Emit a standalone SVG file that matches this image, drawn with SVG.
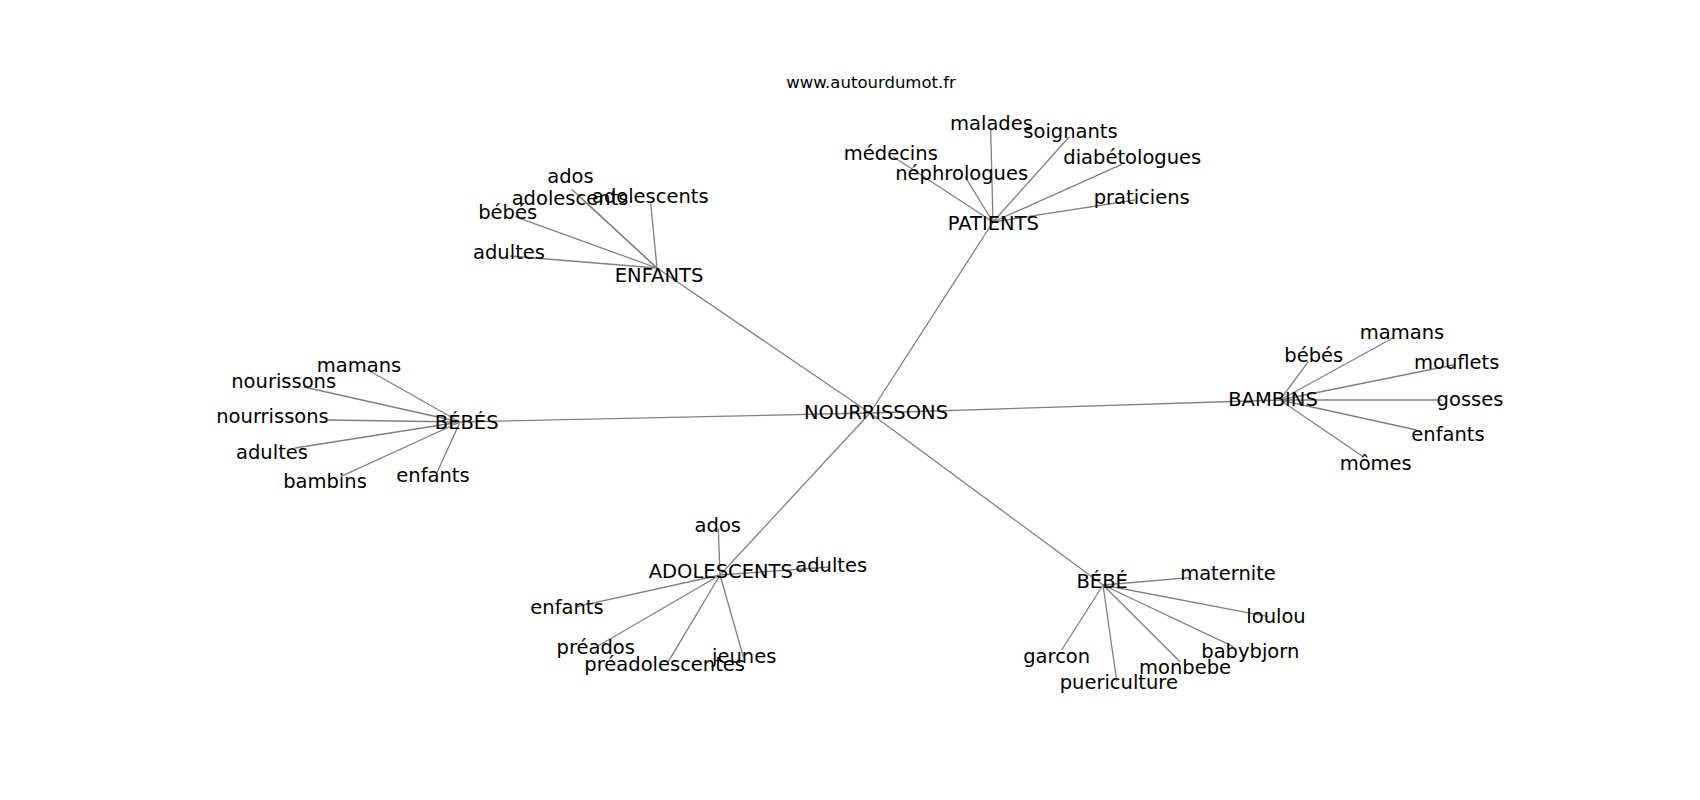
<svg xmlns="http://www.w3.org/2000/svg" width="1700" height="800" viewBox="0 0 1700 800">
<style>
.e line{stroke:#808080;stroke-width:1.3;fill:none}
text{font-family:"DejaVu Sans","Liberation Sans",sans-serif;font-size:19.5px;fill:#000;text-anchor:middle}
.t{font-size:16.5px}
</style>
<rect width="1700" height="800" fill="#fff"/>
<g id="edges" class="e">
<line x1="870" y1="413" x2="657" y2="268"/>
<line x1="870" y1="413" x2="993" y2="222"/>
<line x1="870" y1="413" x2="460" y2="422"/>
<line x1="870" y1="413" x2="1280" y2="400"/>
<line x1="870" y1="413" x2="720" y2="575"/>
<line x1="870" y1="413" x2="1103" y2="585"/>
<line x1="657" y1="268" x2="571.7" y2="189.3"/>
<line x1="657" y1="268" x2="581" y2="198"/>
<line x1="657" y1="268" x2="650.7" y2="203.3"/>
<line x1="657" y1="268" x2="515" y2="216.7"/>
<line x1="657" y1="268" x2="510" y2="256"/>
<line x1="993" y1="222" x2="990.7" y2="130"/>
<line x1="993" y1="222" x2="1069.3" y2="136.7"/>
<line x1="993" y1="222" x2="893.3" y2="156.7"/>
<line x1="993" y1="222" x2="965" y2="176.7"/>
<line x1="993" y1="222" x2="1121.7" y2="164.3"/>
<line x1="993" y1="222" x2="1135" y2="200"/>
<line x1="1280" y1="400" x2="1308.3" y2="361.7"/>
<line x1="1280" y1="400" x2="1393.3" y2="337.7"/>
<line x1="1280" y1="400" x2="1453.3" y2="365"/>
<line x1="1280" y1="400" x2="1441.7" y2="400"/>
<line x1="1280" y1="400" x2="1416.7" y2="430"/>
<line x1="1280" y1="400" x2="1363.3" y2="456.7"/>
<line x1="720" y1="575" x2="718.3" y2="528.3"/>
<line x1="720" y1="575" x2="830" y2="567"/>
<line x1="720" y1="575" x2="576.7" y2="606.7"/>
<line x1="720" y1="575" x2="596.7" y2="646.7"/>
<line x1="720" y1="575" x2="668.3" y2="661.7"/>
<line x1="720" y1="575" x2="743.3" y2="656.7"/>
<line x1="1103" y1="585" x2="1190" y2="577.7"/>
<line x1="1103" y1="585" x2="1268.3" y2="616.7"/>
<line x1="1103" y1="585" x2="1233.3" y2="646.7"/>
<line x1="1103" y1="585" x2="1180" y2="661.7"/>
<line x1="1103" y1="585" x2="1061.7" y2="650"/>
<line x1="1103" y1="585" x2="1116.7" y2="681"/>
<line x1="460" y1="422" x2="367" y2="369.5"/>
<line x1="460" y1="422" x2="304" y2="387"/>
<line x1="460" y1="422" x2="328" y2="420"/>
<line x1="460" y1="422" x2="295" y2="448"/>
<line x1="460" y1="422" x2="340.5" y2="476.7"/>
<line x1="460" y1="422" x2="437" y2="472.5"/>
</g>
<g id="title"><text class="t" x="871" y="88">www.autourdumot.fr</text></g>
<g id="n-nourrissons"><text x="876" y="419">NOURRISSONS</text></g>
<g id="n-enfants"><text x="659" y="282.3">ENFANTS</text></g>
<g id="n-patients"><text x="993.3" y="230">PATIENTS</text></g>
<g id="n-bebes"><text x="466.7" y="429.3">BÉBÉS</text></g>
<g id="n-bambins"><text x="1273" y="405.7">BAMBINS</text></g>
<g id="n-adolescents"><text x="720.8" y="578.3">ADOLESCENTS</text></g>
<g id="n-bebe"><text x="1102.2" y="588.3">BÉBÉ</text></g>
<g id="enfants-ados"><text x="570.5" y="182.7">ados</text></g>
<g id="enfants-adolescents1"><text x="570" y="205">adolescents</text></g>
<g id="enfants-adolescents2"><text x="650.3" y="203.3">adolescents</text></g>
<g id="enfants-bebes"><text x="507.7" y="219.3">bébés</text></g>
<g id="enfants-adultes"><text x="509" y="259.3">adultes</text></g>
<g id="patients-malades"><text x="991.5" y="130">malades</text></g>
<g id="patients-soignants"><text x="1070.5" y="138.3">soignants</text></g>
<g id="patients-medecins"><text x="890.8" y="160">médecins</text></g>
<g id="patients-nephrologues"><text x="961.7" y="180">néphrologues</text></g>
<g id="patients-diabetologues"><text x="1132.3" y="164.3">diabétologues</text></g>
<g id="patients-praticiens"><text x="1141.7" y="204.3">praticiens</text></g>
<g id="bambins-bebes"><text x="1313.8" y="361.7">bébés</text></g>
<g id="bambins-mamans"><text x="1402" y="339">mamans</text></g>
<g id="bambins-mouflets"><text x="1456.7" y="369">mouflets</text></g>
<g id="bambins-gosses"><text x="1470" y="405.7">gosses</text></g>
<g id="bambins-enfants"><text x="1448" y="441">enfants</text></g>
<g id="bambins-momes"><text x="1375.7" y="470">mômes</text></g>
<g id="adol-ados"><text x="717.8" y="531.7">ados</text></g>
<g id="adol-adultes"><text x="831.2" y="571.7">adultes</text></g>
<g id="adol-enfants"><text x="567" y="614">enfants</text></g>
<g id="adol-preados"><text x="595.7" y="654">préados</text></g>
<g id="adol-preadolescentes"><text x="664.7" y="670.7">préadolescentes</text></g>
<g id="adol-jeunes"><text x="744.2" y="662.7">jeunes</text></g>
<g id="bebe-maternite"><text x="1228" y="580">maternite</text></g>
<g id="bebe-loulou"><text x="1276" y="623.3">loulou</text></g>
<g id="bebe-babybjorn"><text x="1250.3" y="658.3">babybjorn</text></g>
<g id="bebe-monbebe"><text x="1185" y="674.3">monbebe</text></g>
<g id="bebe-garcon"><text x="1056.7" y="663.3">garcon</text></g>
<g id="bebe-puericulture"><text x="1118.8" y="689">puericulture</text></g>
<g id="bebes-mamans"><text x="359" y="372.3">mamans</text></g>
<g id="bebes-nourissons"><text x="283.7" y="388.3">nourissons</text></g>
<g id="bebes-nourrissons"><text x="272.5" y="423.3">nourrissons</text></g>
<g id="bebes-adultes"><text x="272" y="459">adultes</text></g>
<g id="bebes-bambins"><text x="325" y="488">bambins</text></g>
<g id="bebes-enfants"><text x="433" y="481.7">enfants</text></g>
</svg>
